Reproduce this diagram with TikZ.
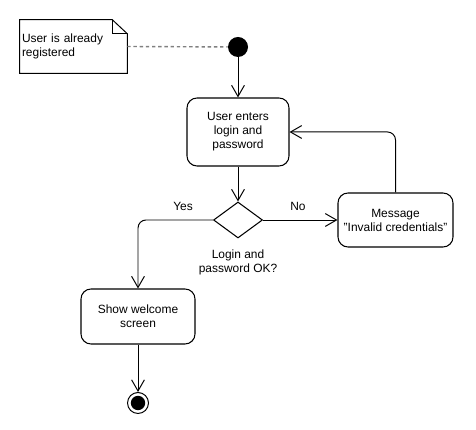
\documentclass[tikz,border=0pt]{standalone}
\usepackage{fontspec}
\setmainfont{Liberation Sans}
\usetikzlibrary{shapes.geometric,arrows.meta}
\tikzset{act/.style={draw, rounded corners=.25cm, align=center, line width=.75pt, inner sep=1pt},
	flow/.style={-{Straight Barb[length=.28cm,width=.32cm]}, line width=.7pt},
	choice/.style={diamond, draw, line width=.75pt, inner sep=0pt, minimum width=1.225cm, minimum height=.9cm},
	notebox/.style={inner xsep=.05cm, text width=2.575cm, align=left, minimum width=2.675cm, minimum height=1.325cm},
	startdot/.style={circle, fill=black, inner sep=0pt, minimum size=.5cm}}

\begin{document}
\begin{tikzpicture}[font=\fontsize{8.5}{10}\selectfont]
	% field
	\useasboundingbox (0,0) rectangle (11.9,10.75);
	
	% note
	\node[notebox] (note) at (1.8375,9.5875) {User is already\\registered\\[-.2cm]};
	\draw[line width=.7pt] (note.north west) -- ([xshift=-.375cm]note.north east) -- ([yshift=-.35cm]note.north east) -- (note.south east) -- (note.south west) -- cycle;
	\draw[line width=.7pt] ([xshift=-.375cm]note.north east) |- ([yshift=-.35cm]note.north east);
	
	% start and end
	\node[startdot] (start) at (5.95,9.575) {};
	\node[circle, draw, line width=.7pt, inner sep=0pt, minimum size=.525cm] (stop) at (3.45,.675) {};
	\node[startdot, minimum size=.36cm] (stopdot) at (stop) {};
	
	% activities
	\node[act, minimum width=2.55cm, minimum height=1.7cm] (enter) at (5.95,7.45) {User enters\\login and\\password};
	\node[choice] (check) at (5.95,5.25) {};
	\node[act, minimum width=2.875cm, minimum height=1.35cm] (msg) at (9.8875,5.25) {Message\\"Invalid credentials"};
	\node[act, minimum width=2.85cm, minimum height=1.375cm] (welcome) at (3.45,2.8375) {Show welcome\\screen};
	
	% labels
	\node (yes) at (4.575,5.6) {Yes};
	\node (no) at (7.45,5.6) {No};
	\node[align=center] (checklbl) at (5.95,4.18) {Login and\\password OK?};
	
	% connectors
	\draw[gray, line width=1pt, dash pattern=on 2.4pt off 2pt] (note.east) -- (start);
	\draw[flow] (start) -- (enter);
	\draw[flow] (enter) -- (check);
	\draw[flow] (check) -- (msg);
	\draw[flow, rounded corners=.2cm] (msg.north) |- (enter.east);
	\draw[flow, rounded corners=.2cm] (check.west) -| (welcome.north);
	\draw[flow] (welcome) -- (stop);
\end{tikzpicture}
\end{document}
